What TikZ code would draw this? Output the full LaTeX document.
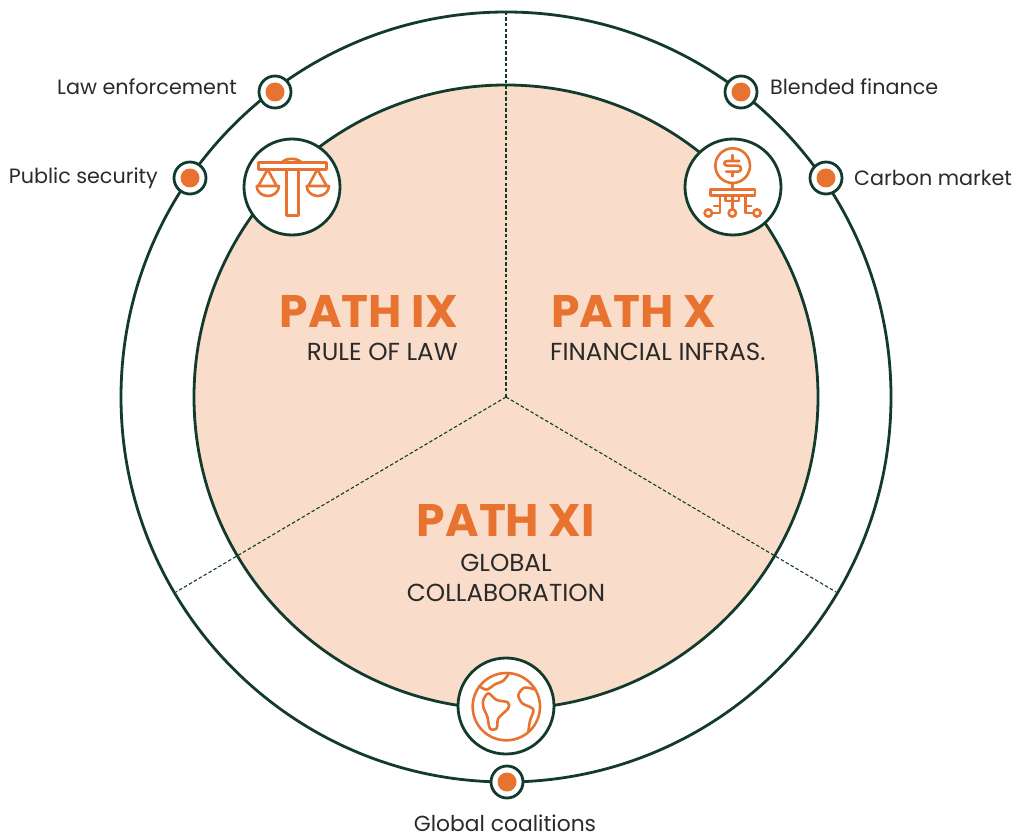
\documentclass[tikz,border=0pt]{standalone}
\usepackage{fontspec}
\setmainfont{Poppins}
\definecolor{dk}{HTML}{123B2C}
\definecolor{org}{HTML}{E87330}
\definecolor{pch}{HTML}{F9DDCA}
\definecolor{txt}{HTML}{2A2A2A}
\tikzset{
 ring/.style={draw=dk,line width=2.8pt},
 sep/.style={draw=dk,line width=1.1pt,dash pattern=on 3.5pt off 2.2pt},
 marker/.style={circle,draw=dk,line width=2.8pt,fill=white,minimum size=32pt,inner sep=0pt},
 hub/.style={circle,draw=dk,line width=2.8pt,fill=white,minimum size=96pt,inner sep=0pt},
 dot/.style={circle,fill=org,minimum size=19pt,inner sep=0pt},
 icon/.style={draw=org,line width=2.6pt,line join=round,line cap=round},
 big/.style={text=org,font=\fontsize{45.6}{46}\selectfont\bfseries,inner sep=0pt},
 sub/.style={text=txt,font=\fontsize{24.6}{30}\selectfont,inner sep=0pt,align=center},
 lab/.style={text=txt,font=\fontsize{20.7}{24}\selectfont,inner sep=0pt},
}
\begin{document}
\begin{tikzpicture}[x=1pt,y=-1pt]
\useasboundingbox (0,0) rectangle (1016,837);
\coordinate (c) at (506,397);
\coordinate (top) at (506,13);
\coordinate (bl) at (176,592);
\coordinate (br) at (836,592);
\node[circle,ring,minimum size=770pt,inner sep=0pt] (outer) at (c) {};
\node[circle,ring,fill=pch,minimum size=624pt,inner sep=0pt] (inner) at (c) {};
\draw[sep] (c) -- (top);
\draw[sep] (c) -- (bl);
\draw[sep] (c) -- (br);
% markers
\foreach \n/\p in {m1/{275,92},m2/{190,178},m3/{741,92},m4/{826,178},m5/{507,782}}{
  \node[marker] (\n) at (\p) {};
  \node[dot] (\n d) at (\n) {};
}
% hubs
\node[hub] (h1) at (292,187) {};
\node[hub] (h2) at (733,187) {};
\node[hub] (h3) at (506,706) {};
% scales icon
\begin{scope}[shift={(230,125)},x=0.3333pt,y=-0.3333pt]
\draw[icon] (85,112) rectangle (290,133);
\draw[icon] (155,112) .. controls (170,98) and (200,98) .. (215,112);
\draw[icon] (170,133) -- (170,272) -- (205,272) -- (205,133);
\draw[icon] (113,133) -- (85,183) (113,133) -- (140,183);
\draw[icon] (80,183) -- (147,183) arc[start angle=0,end angle=180,x radius=33.5,y radius=30] -- cycle;
\draw[icon] (262,133) -- (235,183) (262,133) -- (290,183);
\draw[icon] (230,183) -- (297,183) arc[start angle=0,end angle=180,x radius=33.5,y radius=30] -- cycle;
\end{scope}
% finance icon
\begin{scope}[shift={(670,125)},x=0.3333pt,y=-0.3333pt]
\draw[icon] (188,122) circle[radius=52];
\draw[icon] (188,90) -- (188,104) (188,140) -- (188,154);
\draw[icon] (208,108) -- (172,108) .. controls (160,108) and (160,122) .. (172,122) -- (204,122) .. controls (216,122) and (216,140) .. (204,140) -- (168,140);
\draw[icon] (188,174) -- (188,193);
\draw[icon] (122,193) rectangle (255,212);
\draw[icon] (115,264) circle[radius=11] (187,264) circle[radius=11] (261,264) circle[radius=11];
\draw[icon] (187,212) -- (187,253);
\draw[icon] (126,264) -- (150,264) -- (150,212);
\draw[icon] (250,264) -- (226,264) -- (226,212);
\draw[icon] (132,243) -- (150,243) (226,243) -- (244,243);
\draw[icon] (167,212) -- (167,228) -- (207,228) -- (207,212);
\end{scope}
% globe icon
\begin{scope}[shift={(445,650)},x=0.3333pt,y=-0.3333pt]
\draw[icon] (184,170) circle[radius=101];
\draw[icon] plot[smooth] coordinates {(102,108) (125,119) (150,103) (175,92) (192,70)};
\draw[icon] plot[smooth cycle] coordinates {(115,150) (130,130) (155,150) (188,157) (190,175) (160,205) (155,235) (135,236) (127,200) (115,172)};
\draw[icon] plot[smooth] coordinates {(268,118) (238,113) (220,135) (232,160) (265,178) (255,212) (250,245)};
\end{scope}
% texts
\node[big,anchor=east] (t9) at (458,311) {PATH IX};
\node[sub,anchor=east] (s9) at (458,352) {RULE OF LAW};
\node[big,anchor=west] (t10) at (551,311) {PATH X};
\node[sub,anchor=west] (s10) at (550,352) {FINANCIAL INFRAS.};
\node[big] (t11) at (506,520) {PATH XI};
\node[sub] (s11) at (506,578) {GLOBAL\\COLLABORATION};
\node[lab,anchor=east] (l1) at (237,87) {Law enforcement};
\node[lab,anchor=east] (l2) at (158,178) {Public security};
\node[lab,anchor=west] (l3) at (770,87) {Blended finance};
\node[lab,anchor=west] (l4) at (854,178) {Carbon market};
\node[lab,font=\fontsize{21.8}{24}\selectfont] (l5) at (505,823) {Global coalitions};
\end{tikzpicture}
\end{document}
